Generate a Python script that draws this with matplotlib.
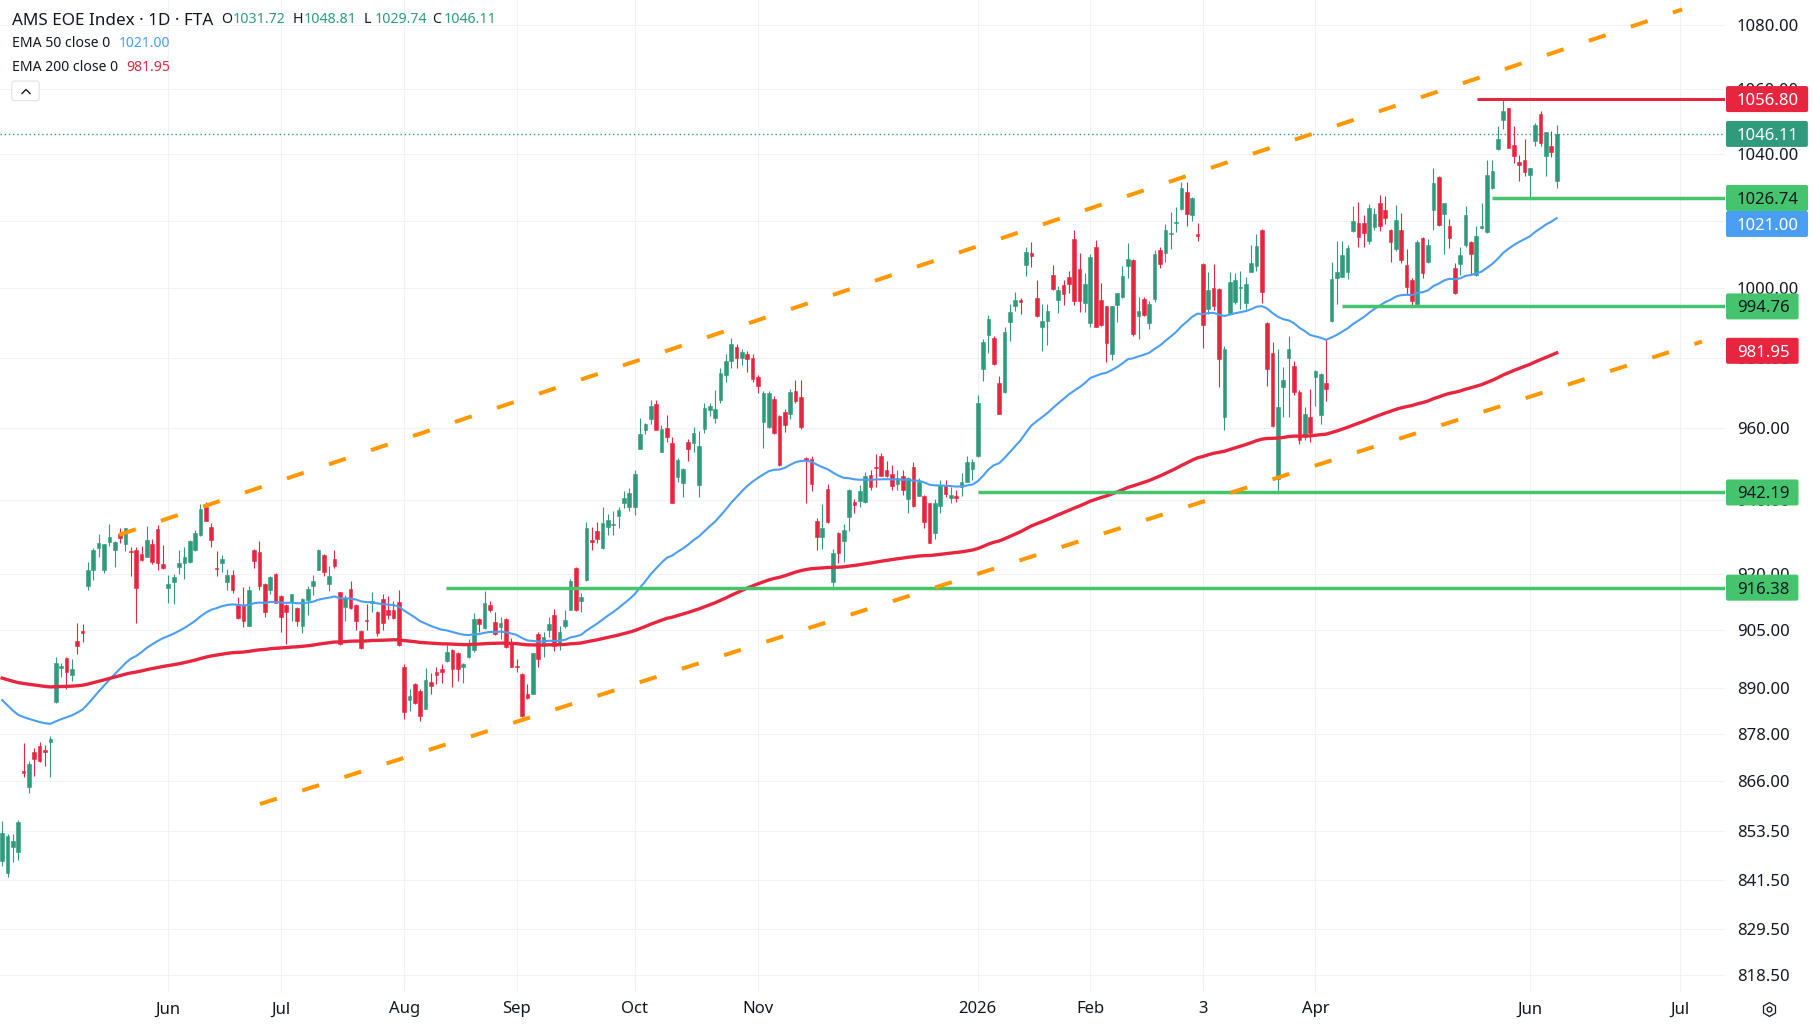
import numpy as np
import matplotlib
matplotlib.use("Agg")
import matplotlib.pyplot as plt
import matplotlib.transforms as mtransforms
from matplotlib.lines import Line2D
from matplotlib.patches import FancyBboxPatch
from matplotlib.ticker import FixedLocator, FixedFormatter, NullLocator

# bar numbers count trading days, bar 0 = Mon 2 Jun 2025
first_bar = -31

opens = [
    846.0, 843.2, 849.6, 848.4, 868.6, 864.7, 873.5, 875.0, 873.9, 875.9,
    886.3, 895.2, 897.8, 893.2, 902.3, 904.8, 916.7, 921.1, 927.0, 921.1,
    928.7, 926.6, 930.8, 928.0, 926.2, 926.5, 925.4, 924.7, 928.0, 932.1,
    922.7, 916.2, 918.0, 922.0, 923.1, 923.3, 926.6, 930.6, 938.3, 932.8,
    921.7, 922.9, 918.0, 919.8, 912.0, 911.8, 906.3, 926.5, 926.0, 917.3,
    915.7, 920.1, 914.2, 911.8, 912.5, 910.9, 906.3, 913.2, 916.7, 921.1,
    925.1, 917.3, 924.0, 915.1, 911.3, 916.0, 911.8, 904.8, 907.8, 912.4,
    910.0, 913.3, 910.3, 910.3, 912.5, 895.4, 886.9, 891.0, 889.2, 884.6,
    891.6, 894.2, 894.9, 897.1, 899.8, 899.1, 895.5, 898.0, 899.8, 908.1,
    905.6, 911.8, 907.2, 905.9, 908.1, 901.5, 895.7, 893.6, 888.5, 888.5,
    904.1, 900.8, 905.0, 909.1, 901.7, 906.3, 910.4, 921.6, 912.7, 918.3,
    929.2, 931.7, 927.0, 932.8, 933.2, 935.7, 939.2, 938.1, 938.1, 954.3,
    959.6, 962.5, 966.9, 953.5, 960.0, 955.8, 946.5, 944.9, 956.2, 956.0,
    944.3, 959.8, 965.2, 962.9, 968.0, 975.0, 979.0, 983.0, 980.0, 981.0,
    980.0, 974.5, 961.8, 960.3, 968.3, 963.4, 964.5, 964.0, 970.6, 968.9,
    951.8, 951.5, 934.4, 930.1, 943.2, 918.0, 931.2, 929.0, 935.6, 939.6,
    939.9, 939.6, 947.0, 949.3, 952.4, 948.3, 947.3, 944.4, 946.6, 940.5,
    949.2, 941.3, 941.3, 939.2, 931.0, 938.5, 944.0, 940.6, 941.3, 943.8,
    945.2, 948.7, 952.3, 976.8, 986.5, 985.6, 972.7, 970.1, 990.3, 994.8,
    996.5, 1006.9, 1010.5, 997.3, 988.9, 990.6, 1003.9, 996.6, 1001.1, 1003.3,
    1014.6, 1005.7, 995.8, 989.9, 1012.1, 996.6, 994.8, 981.0, 995.1, 997.4,
    1006.6, 1008.4, 992.0, 996.9, 989.9, 996.9, 1011.3, 1010.3, 1016.0, 1019.3,
    1023.4, 1028.5, 1021.7, 1015.9, 1007.1, 994.1, 1000.1, 999.9, 963.1, 992.9,
    996.1, 1000.0, 995.8, 1004.9, 1006.6, 1017.3, 990.0, 981.3, 946.0, 971.7,
    979.9, 977.7, 970.1, 957.5, 963.1, 974.6, 963.7, 972.7, 990.5, 1002.9,
    1003.4, 1004.9, 1016.8, 1019.2, 1019.2, 1013.8, 1018.0, 1025.1, 1023.2, 1017.3,
    1011.6, 1017.3, 1006.9, 1002.5, 995.5, 1014.8, 1007.6, 1023.2, 1033.0, 1021.8,
    1018.4, 1005.9, 1007.0, 1012.6, 1013.6, 1003.9, 1017.8, 1016.5, 1029.6, 1041.4,
    1050.4, 1054.0, 1042.7, 1037.6, 1038.2, 1033.7, 1044.0, 1052.3, 1039.4, 1042.4,
    1031.72,
]
highs = [
    856.0, 852.9, 852.9, 856.2, 875.7, 871.1, 874.6, 876.1, 875.2, 877.6,
    898.1, 896.5, 898.1, 897.5, 907.0, 906.7, 923.2, 927.0, 930.8, 928.1,
    933.5, 928.9, 932.4, 932.6, 927.4, 927.4, 927.6, 932.9, 929.6, 933.4,
    927.8, 919.9, 920.0, 926.5, 927.2, 929.2, 931.9, 939.0, 939.5, 933.9,
    926.2, 925.2, 921.5, 921.0, 913.9, 916.5, 916.7, 926.8, 928.9, 917.5,
    919.5, 920.3, 914.4, 912.0, 914.8, 911.1, 913.5, 916.7, 919.7, 926.7,
    925.3, 922.1, 926.5, 915.3, 914.4, 918.2, 912.0, 905.0, 912.1, 915.1,
    910.2, 914.6, 914.2, 912.9, 915.7, 896.2, 889.7, 891.2, 889.7, 895.1,
    893.9, 895.4, 896.2, 901.3, 900.2, 899.3, 896.4, 902.8, 909.7, 908.3,
    915.5, 912.9, 909.8, 908.5, 908.3, 903.0, 897.6, 893.8, 891.0, 899.2,
    904.6, 904.6, 908.5, 910.6, 906.1, 910.4, 918.7, 921.8, 914.9, 934.0,
    932.8, 934.0, 938.3, 936.2, 937.1, 938.3, 942.6, 943.5, 948.5, 962.8,
    961.6, 968.0, 968.0, 960.9, 963.7, 957.6, 951.6, 948.9, 956.9, 960.3,
    959.2, 967.1, 967.1, 970.8, 977.0, 981.0, 985.5, 984.0, 982.5, 982.0,
    981.0, 975.0, 970.5, 970.5, 969.0, 963.6, 965.5, 971.2, 973.7, 973.7,
    951.9, 952.2, 935.2, 939.0, 944.5, 926.9, 931.4, 933.5, 943.2, 940.5,
    944.2, 947.9, 948.5, 952.7, 953.1, 950.9, 949.8, 948.5, 948.3, 946.5,
    950.6, 946.1, 941.5, 939.4, 940.5, 945.6, 945.6, 943.6, 942.9, 947.5,
    952.4, 951.5, 969.5, 985.2, 992.2, 986.1, 974.8, 988.7, 995.6, 999.0,
    997.3, 1012.1, 1013.5, 1002.5, 995.6, 995.6, 1006.9, 1000.8, 1002.5, 1005.1,
    1017.3, 1010.3, 1004.4, 1010.1, 1014.1, 1001.5, 995.0, 995.0, 998.8, 1006.6,
    1013.3, 1008.6, 997.6, 997.6, 996.3, 1011.3, 1012.3, 1019.0, 1022.5, 1024.0,
    1031.5, 1031.5, 1026.9, 1019.2, 1007.3, 1004.9, 1007.1, 1000.1, 983.4, 1004.9,
    1004.4, 1005.0, 1003.4, 1012.8, 1016.1, 1017.5, 990.2, 984.6, 982.4, 977.3,
    986.2, 978.9, 970.8, 966.0, 971.0, 976.5, 975.6, 985.3, 1007.8, 1013.8,
    1013.8, 1012.8, 1024.3, 1025.5, 1021.6, 1025.0, 1023.8, 1027.7, 1027.4, 1017.5,
    1024.5, 1022.1, 1011.6, 1003.0, 1014.3, 1015.0, 1014.5, 1035.7, 1033.2, 1025.3,
    1020.4, 1007.5, 1012.3, 1024.3, 1013.8, 1018.5, 1025.1, 1038.2, 1038.2, 1048.4,
    1056.8, 1054.2, 1048.4, 1039.7, 1044.7, 1035.9, 1049.6, 1053.2, 1046.8, 1047.0,
    1048.81,
]
lows = [
    845.0, 842.3, 845.9, 846.3, 867.0, 863.1, 867.4, 871.0, 869.9, 867.0,
    886.1, 892.9, 889.8, 891.8, 898.7, 902.0, 915.8, 918.3, 924.5, 920.4,
    927.5, 921.8, 928.3, 926.2, 919.5, 907.1, 923.6, 924.5, 922.6, 921.1,
    921.5, 912.4, 912.0, 920.0, 918.8, 922.9, 926.1, 930.4, 934.3, 927.4,
    919.4, 920.7, 915.8, 914.9, 908.0, 905.9, 906.1, 921.7, 915.8, 908.5,
    914.7, 912.2, 904.7, 901.5, 907.4, 906.3, 904.3, 909.0, 914.4, 921.0,
    919.5, 915.5, 921.7, 901.3, 907.4, 910.7, 905.0, 900.1, 905.0, 909.8,
    903.5, 905.0, 908.1, 908.1, 900.9, 881.8, 884.0, 885.8, 881.4, 884.4,
    888.4, 891.0, 891.2, 896.7, 890.1, 891.7, 891.2, 897.8, 899.3, 904.6,
    905.4, 909.8, 903.8, 902.8, 900.4, 895.3, 894.1, 882.4, 887.0, 888.3,
    895.3, 898.1, 903.4, 899.7, 899.9, 905.6, 910.3, 910.1, 909.8, 918.1,
    926.5, 928.3, 926.8, 930.6, 930.6, 932.6, 937.8, 937.2, 936.0, 954.1,
    958.5, 961.2, 959.4, 953.3, 956.3, 939.2, 945.2, 941.0, 951.0, 953.5,
    941.0, 958.7, 963.4, 961.6, 967.1, 973.0, 977.0, 977.0, 978.0, 976.0,
    973.0, 970.0, 954.5, 960.1, 958.5, 949.6, 959.0, 962.5, 967.1, 959.9,
    939.2, 942.6, 926.5, 926.9, 933.8, 916.0, 922.9, 923.3, 931.7, 936.6,
    938.1, 939.4, 942.9, 943.6, 946.6, 946.4, 943.0, 943.0, 941.5, 936.6,
    938.3, 941.1, 932.4, 928.3, 929.6, 936.6, 941.0, 939.2, 939.6, 941.3,
    945.0, 945.6, 952.0, 973.2, 981.4, 977.9, 963.9, 970.0, 984.8, 993.4,
    992.5, 1003.6, 1006.4, 991.8, 982.0, 983.6, 999.6, 992.9, 995.1, 998.8,
    995.1, 993.2, 993.2, 988.9, 988.7, 989.1, 978.8, 979.3, 990.1, 997.1,
    1003.0, 986.2, 985.4, 992.0, 988.2, 996.1, 1006.1, 1007.6, 1011.7, 1016.5,
    1023.2, 1018.3, 1019.9, 1013.8, 982.8, 992.7, 993.8, 971.7, 959.4, 992.7,
    995.6, 993.9, 993.9, 1004.7, 1005.2, 995.8, 972.0, 960.4, 942.2, 963.2,
    963.2, 969.4, 955.7, 956.6, 956.3, 966.2, 961.1, 967.6, 990.3, 995.6,
    1003.2, 1002.7, 1016.6, 1012.3, 1012.3, 1013.1, 1017.3, 1016.8, 1019.0, 1007.8,
    1011.1, 1007.4, 998.4, 994.5, 994.5, 1003.0, 1007.4, 1017.1, 1018.4, 1010.1,
    1012.0, 998.5, 1003.9, 1012.3, 1003.9, 1003.7, 1017.6, 1016.3, 1029.4, 1041.2,
    1047.6, 1041.7, 1037.3, 1031.7, 1033.4, 1026.74, 1042.4, 1042.5, 1033.4, 1039.2,
    1029.74,
]
closes = [
    853.0, 852.4, 851.0, 855.9, 868.2, 870.5, 871.6, 871.2, 873.5, 876.9,
    896.5, 895.6, 894.2, 894.9, 900.8, 904.4, 921.1, 926.5, 928.3, 928.0,
    929.9, 928.7, 929.8, 932.4, 925.9, 916.2, 923.8, 929.1, 923.3, 923.1,
    921.7, 917.4, 919.2, 922.9, 924.6, 928.9, 931.1, 937.7, 934.5, 929.2,
    921.3, 924.1, 919.8, 915.8, 908.2, 907.4, 915.8, 923.6, 916.7, 909.8,
    919.3, 912.4, 908.5, 909.8, 914.6, 907.6, 913.3, 916.0, 918.2, 926.5,
    920.5, 919.5, 922.3, 901.5, 913.6, 910.9, 907.6, 900.3, 907.4, 912.8,
    904.4, 907.1, 909.1, 908.4, 901.1, 883.8, 887.8, 886.0, 882.6, 891.9,
    890.4, 893.2, 894.2, 899.3, 894.9, 894.8, 896.2, 901.3, 908.1, 906.6,
    912.3, 910.3, 904.0, 907.0, 900.6, 895.5, 895.3, 882.6, 887.3, 899.0,
    897.4, 903.4, 906.7, 900.8, 904.6, 907.8, 918.2, 910.3, 913.8, 932.4,
    928.8, 929.5, 933.7, 934.6, 933.6, 937.4, 940.8, 942.0, 947.3, 958.3,
    961.1, 966.3, 959.6, 959.8, 957.5, 939.4, 951.2, 948.6, 954.3, 958.7,
    955.1, 965.6, 966.2, 965.3, 975.5, 979.0, 984.0, 980.0, 981.5, 979.5,
    974.0, 972.0, 969.9, 969.9, 958.8, 949.8, 960.8, 970.2, 967.8, 960.4,
    951.2, 944.6, 929.9, 932.4, 934.0, 925.6, 925.8, 931.8, 942.8, 938.7,
    942.5, 946.8, 943.8, 949.0, 946.8, 946.6, 944.1, 946.1, 942.9, 946.3,
    938.5, 945.2, 934.2, 928.5, 939.2, 944.2, 941.7, 941.5, 940.6, 945.2,
    950.6, 950.6, 967.0, 984.5, 991.1, 978.2, 964.1, 987.5, 993.0, 996.6,
    996.1, 1010.8, 1009.5, 992.0, 990.5, 993.4, 999.8, 999.6, 998.3, 1001.3,
    996.4, 996.4, 1001.4, 1009.2, 988.9, 989.3, 984.2, 994.8, 998.6, 1003.7,
    1008.6, 986.9, 993.4, 992.2, 995.4, 1010.1, 1007.1, 1017.3, 1016.3, 1019.7,
    1029.7, 1021.8, 1026.7, 1015.5, 989.3, 999.6, 994.8, 979.6, 982.5, 1001.9,
    1002.5, 1000.4, 1001.3, 1007.3, 1012.5, 999.0, 976.8, 960.6, 965.9, 973.6,
    982.4, 970.1, 956.8, 963.9, 958.8, 976.3, 975.4, 971.1, 1002.6, 1004.7,
    1009.9, 1012.0, 1019.8, 1015.1, 1016.3, 1023.6, 1021.8, 1018.4, 1020.8, 1013.5,
    1020.2, 1008.4, 1000.5, 996.4, 1013.6, 1004.4, 1012.8, 1031.2, 1018.7, 1025.1,
    1014.8, 998.7, 1009.9, 1021.5, 1010.0, 1015.5, 1018.4, 1033.7, 1035.0, 1044.7,
    1053.2, 1041.9, 1039.4, 1036.6, 1034.7, 1035.7, 1048.9, 1043.4, 1046.6, 1040.7,
    1046.11,
]

# EMA values at the first visible bar
ema50_start = 886.8
ema200_start = 892.5
ema50_last = 1021.00
ema200_last = 981.95

price_ticks = [818.5, 829.5, 841.5, 853.5, 866, 878, 890, 905, 920, 940,
               960, 980, 1000, 1020, 1040, 1060, 1080]
month_bars = [0, 21, 44, 65, 87, 110, 151, 172, 193, 214, 254, 282]
month_labels = ["Jun", "Jul", "Aug", "Sep", "Oct", "Nov", "2026", "Feb", "3",
                "Apr", "Jun", "Jul"]

support_levels = [916.38, 942.19, 994.76, 1026.74]
support_from = [51.8, 151.0, 219.0, 247.0]
resistance_level = 1056.80
resistance_from = 244.1

upper_channel_bars = [-9.2, 282.4]
upper_channel_prices = [930.6, 1084.8]
lower_channel_bars = [17.1, 286.1]
lower_channel_prices = [860.3, 984.6]

UP = "#2f9b7c"
DOWN = "#e8253f"
BLUE = "#4a9ef3"
GREEN = "#45c46d"
ORANGE = "#ff9800"
GRID = "#f0f2f5"
TEXT = "#131722"

W, H = 1813, 1029
plt.rcParams["font.family"] = ["Noto Sans", "DejaVu Sans"]


def ema(values, span, start):
    alpha = 2.0 / (span + 1)
    out = [start]
    for v in values[1:]:
        out.append(out[-1] + alpha * (v - out[-1]))
    return np.array(out)


assert len(opens) == len(highs) == len(lows) == len(closes)

fig = plt.figure(figsize=(W / 100, H / 100), dpi=100)
ax = fig.add_axes([0, 36 / H, 1725 / W, 993 / H])

x = np.arange(first_bar, first_bar + len(closes))
o, hi, lo, c = (np.array(a) for a in (opens, highs, lows, closes))
cols = np.where(c >= o, UP, DOWN)

ax.vlines(x, lo, hi, colors=cols, lw=0.8, zorder=3)
ax.bar(x, np.abs(c - o), bottom=np.minimum(o, c), width=0.68, color=cols,
       edgecolor=cols, linewidth=0.4, zorder=4)

ax.plot(x, ema(c, 50, ema50_start), color=BLUE, lw=1.5, zorder=5)
ax.plot(x, ema(c, 200, ema200_start), color=DOWN, lw=2.4, zorder=5)

x_left, x_right = -31.4, 290.4
ax.set_xlim(x_left, x_right)
ax.set_yscale("log")
ax.set_ylim(814.15, 1087.8)

ax.axhline(closes[-1], color=UP, lw=1.0, ls=(0, (1, 2)), zorder=2)
for lvl, start in zip(support_levels, support_from):
    ax.plot([start, x_right], [lvl, lvl], color=GREEN, lw=2.5,
            solid_capstyle="butt", zorder=6)
ax.plot([resistance_from, x_right], [resistance_level] * 2, color=DOWN, lw=2.2,
        solid_capstyle="butt", zorder=6)
for bx, py in ((upper_channel_bars, upper_channel_prices),
               (lower_channel_bars, lower_channel_prices)):
    ax.plot(bx, py, color=ORANGE, lw=2.9, dashes=(4.4, 6.6),
            dash_capstyle="butt", zorder=6)

# axes styling
for s in ax.spines.values():
    s.set_visible(False)
ax.set_axisbelow(True)
ax.grid(True, color=GRID, lw=0.8)
ax.yaxis.tick_right()
ax.yaxis.set_major_locator(FixedLocator(price_ticks))
ax.yaxis.set_major_formatter(FixedFormatter([f"{t:.2f}" for t in price_ticks]))
ax.yaxis.set_minor_locator(NullLocator())
ax.set_xticks(month_bars)
ax.set_xticklabels(month_labels)
ax.tick_params(axis="y", length=0, pad=8.6, labelsize=12, labelcolor=TEXT)
ax.tick_params(axis="x", length=0, pad=6, labelsize=12, labelcolor=TEXT)
for lbl in ax.get_xticklabels():
    if lbl.get_text() == "2026":
        lbl.set_fontweight("bold")

# price labels on the axis
fig.canvas.draw()
renderer = fig.canvas.get_renderer()
ident = mtransforms.IdentityTransform()
boxes = [
    (resistance_level, DOWN, "white"),
    (closes[-1], UP, "white"),
    (support_levels[3], GREEN, TEXT),
    (ema50_last, BLUE, "white"),
    (support_levels[2], GREEN, TEXT),
    (ema200_last, DOWN, "white"),
    (support_levels[1], GREEN, TEXT),
    (support_levels[0], GREEN, TEXT),
]
prev_bottom = None
for price, fc, tc in sorted(boxes, key=lambda b: -b[0]):
    yc = ax.transData.transform((0, price))[1]
    if prev_bottom is not None and yc + 13 > prev_bottom:
        yc = prev_bottom - 13
    t = fig.text(1737, yc, f"{price:.2f}", transform=ident, ha="left",
                 va="center_baseline", fontsize=12, color=tc, zorder=4)
    ext = t.get_window_extent(renderer)
    fig.add_artist(FancyBboxPatch((1726, yc - 13), ext.x1 + 9 - 1726, 26,
                                  boxstyle="round,pad=0,rounding_size=2",
                                  fc=fc, ec="none", transform=ident, zorder=2))
    prev_bottom = yc - 13

# header legend
def head(xp, yb, s, size, color=TEXT, **kw):
    fig.text(xp, H - yb, s, transform=ident, ha="left", va="baseline",
             fontsize=size, color=color, **kw)

head(11.7, 25, "AMS EOE Index \u00b7 1D \u00b7 FTA", 12.3)
ohlc = [("O", opens[-1], 221.3), ("H", highs[-1], 292.3),
        ("L", lows[-1], 363.3), ("C", closes[-1], 432.3)]
for key, val, xp in ohlc:
    head(xp, 22.7, key, 10.2)
    head(xp + 11, 22.7, f"{val:.2f}", 10.2, UP)
head(11.7, 47, "EMA 50 close 0", 10.1)
head(119, 47, f"{ema50_last:.2f}", 10.1, BLUE)
head(11.7, 71.3, "EMA 200 close 0", 10.1)
head(126.7, 71.3, f"{ema200_last:.2f}", 10.1, DOWN)

# collapse button and settings icon
fig.add_artist(FancyBboxPatch((11.7, H - 100.6), 27.6, 19.6,
                              boxstyle="round,pad=0,rounding_size=3",
                              fc="white", ec="#e0e3eb", lw=0.8,
                              transform=ident, zorder=3))
fig.add_artist(Line2D([22, 26, 30], [H - 93.5, H - 89.5, H - 93.5], color=TEXT,
                      lw=1.0, transform=ident, zorder=4))
fig.add_artist(Line2D([1769], [H - 1009], marker="h", ms=10, mfc="none",
                      mec=TEXT, mew=0.9, transform=ident, zorder=4))
fig.add_artist(Line2D([1769], [H - 1009], marker="o", ms=3.5, mfc="none",
                      mec=TEXT, mew=0.9, transform=ident, zorder=4))

fig.savefig("out.png", dpi=100, facecolor="white")
